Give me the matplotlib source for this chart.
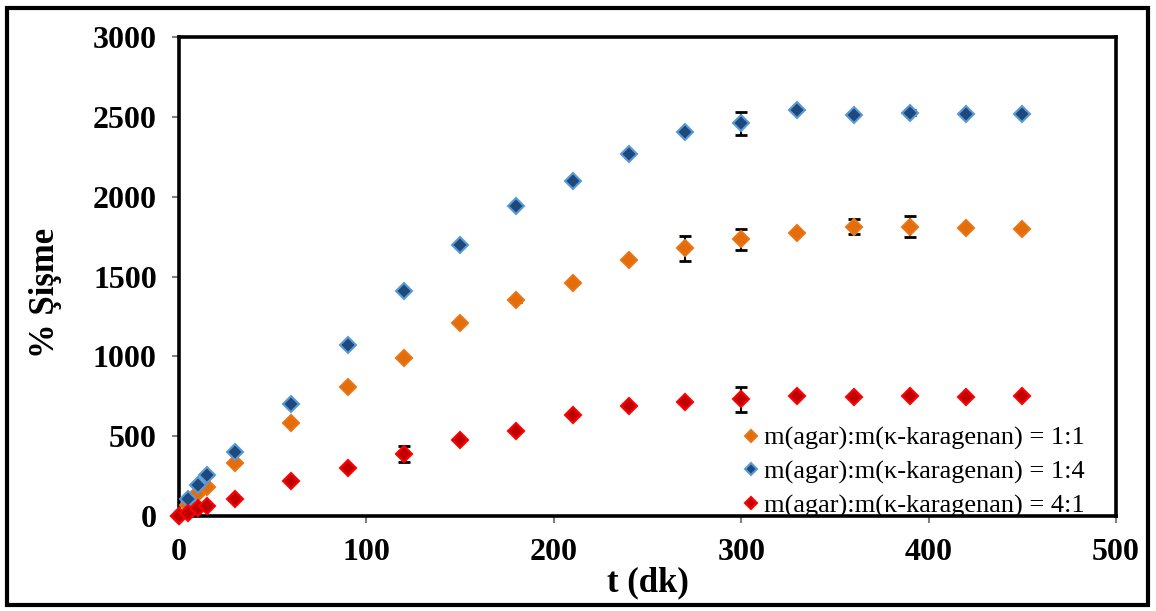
import numpy as np
import matplotlib
matplotlib.use("Agg")
import matplotlib.pyplot as plt
from matplotlib.patches import Rectangle

plt.rcParams['font.family'] = ['Liberation Serif', 'DejaVu Serif']

# time points (dk)
t = [0, 5, 10, 15, 30, 60, 90, 120, 150, 180, 210, 240, 270, 300, 330, 360, 390, 420, 450]

# % swelling for each agar : kappa-carrageenan ratio
sw_11 = [0, 70, 144, 182, 332, 582, 808, 989, 1208, 1352, 1459, 1603, 1676, 1732, 1770, 1812, 1812, 1803, 1795]
err_11 = [0, 0, 0, 0, 0, 0, 0, 0, 0, 10, 0, 0, 77, 65, 0, 46, 65, 0, 0]

sw_14 = [0, 106, 194, 257, 400, 701, 1071, 1409, 1697, 1941, 2098, 2267, 2406, 2459, 2542, 2513, 2525, 2515, 2515]
err_14 = [0, 0, 0, 0, 0, 0, 0, 0, 0, 0, 0, 0, 0, 70, 0, 0, 15, 0, 0]

sw_41 = [0, 19, 50, 63, 106, 219, 300, 388, 476, 532, 632, 689, 714, 730, 751, 747, 751, 747, 751]
err_41 = [0, 0, 0, 0, 0, 0, 0, 48, 0, 0, 0, 0, 0, 80, 0, 0, 0, 0, 0]

labels = ['m(agar):m(\u03ba-karagenan) = 1:1',
          'm(agar):m(\u03ba-karagenan) = 1:4',
          'm(agar):m(\u03ba-karagenan) = 4:1']

W, H = 1156, 611
fig = plt.figure(figsize=(W / 100, H / 100), dpi=100)
ax = fig.add_axes([179 / W, 1 - 516 / H, (1116 - 179) / W, (516 - 37) / H])

series = [
  (sw_11, err_11, '#E46C0A', '#E97516', labels[0]),
  (sw_14, err_14, '#1F497D', '#5B9BD5', labels[1]),
  (sw_41, err_41, '#C00000', '#FF0000', labels[2]),
]

for ys, es, fc, ec, lab in series:
  ax.errorbar(t, ys, yerr=es, fmt='none', ecolor='black', elinewidth=1.5,
              capsize=4.5, capthick=2, zorder=2)
for ys, es, fc, ec, lab in series:
  ax.plot(t, ys, linestyle='none', marker='D', markersize=8.5,
          markerfacecolor=fc, markeredgecolor=ec, markeredgewidth=1.5,
          label=lab, zorder=3, clip_on=False)

ax.set_xlim(0, 500)
ax.set_ylim(0, 3000)
ax.set_xticks(range(0, 501, 100))
ax.set_yticks(range(0, 3001, 500))

for lab in ax.get_xticklabels() + ax.get_yticklabels():
  lab.set_fontweight('bold')
ax.tick_params(axis='both', direction='out', length=5, width=1.5,
               color='#808080', labelsize=23, pad=11)

for s in ax.spines.values():
  s.set_linewidth(2.6)
  s.set_color('black')

ax.set_xlabel('t (dk)', fontsize=25, fontweight='bold', labelpad=0)
ax.xaxis.set_label_coords(0.5, -0.105)
fig.text(45 / W, 1 - 293 / H, '% \u015ei\u015fme', rotation=90, fontsize=25,
         fontweight='bold', ha='center', va='center')

leg = ax.legend(loc='lower left', bbox_to_anchor=(0.582, -0.031), frameon=False,
                fontsize=19, handletextpad=0.0, handlelength=1.0,
                labelspacing=0.37, borderpad=0, markerscale=0.75)
leg.set_zorder(5)

# outer chart border
fig.patches.append(Rectangle((7 / W, 1 - 605 / H), (1148 - 7) / W, (605 - 8) / H,
                             transform=fig.transFigure, fill=False,
                             edgecolor='black', linewidth=3))

fig.savefig('out.png', dpi=100)
